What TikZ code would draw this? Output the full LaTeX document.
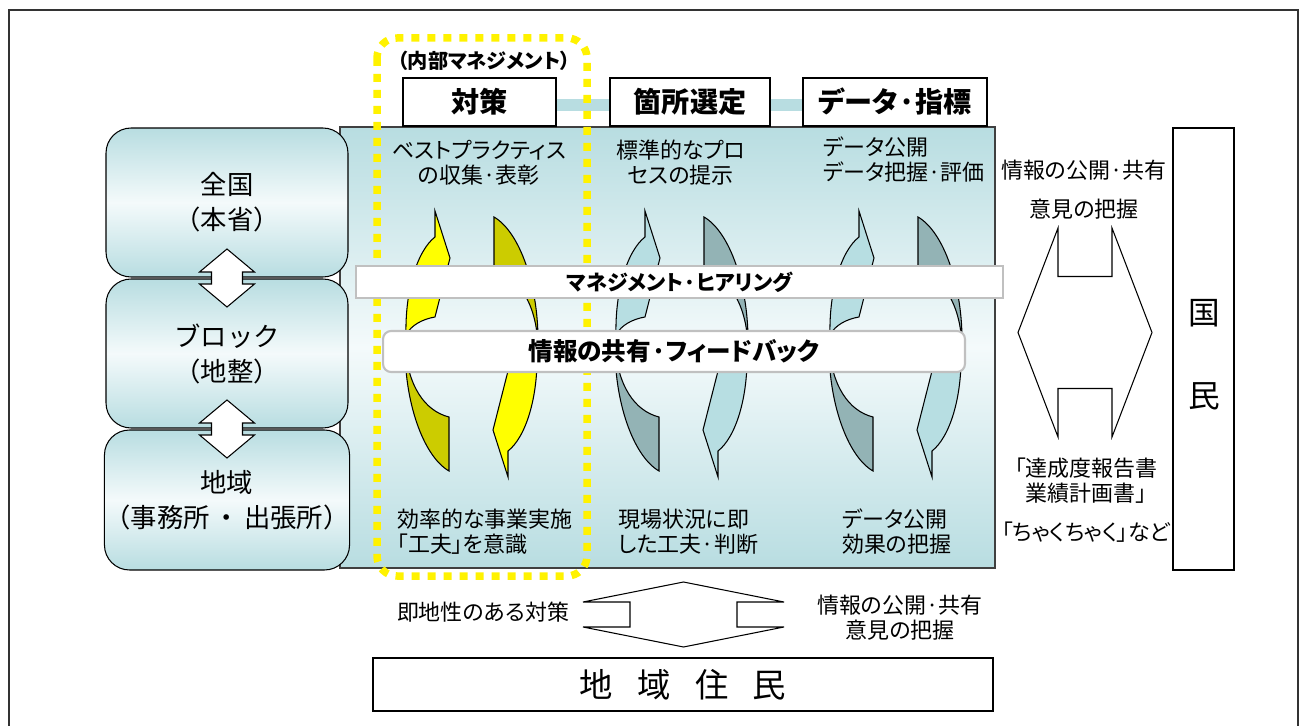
\documentclass[tikz,border=0pt]{standalone}
\usepackage{fontspec}
\setmainfont{Noto Sans CJK JP}
\newfontfamily\pjp[RawFeature=+palt]{Noto Sans CJK JP}
\usetikzlibrary{calc}
\definecolor{panelblue}{HTML}{B8DDE1}
\definecolor{panelwhite}{HTML}{F4FAFB}
\definecolor{ringyellow}{HTML}{FFFF00}
\definecolor{ringolive}{HTML}{CCCC00}
\definecolor{ringblue}{HTML}{B7DEE2}
\definecolor{ringgrey}{HTML}{93B3B5}
\definecolor{barline}{HTML}{C0C0C0}
\newcommand{\vdarrow}[5]{\draw[arrowshape, shift={#1}] (0,-#2) -- (#4,-#2+#3) -- (#5,-#2+#3) -- (#5,#2-#3) -- (#4,#2-#3) -- (0,#2) -- (-#4,#2-#3) -- (-#5,#2-#3) -- (-#5,-#2+#3) -- (-#4,-#2+#3) -- cycle;}
\newcommand{\hdarrow}[5]{\draw[arrowshape, shift={#1}] (-#2,0) -- (-#2+#3,-#4) -- (-#2+#3,-#5) -- (#2-#3,-#5) -- (#2-#3,-#4) -- (#2,0) -- (#2-#3,#4) -- (#2-#3,#5) -- (-#2+#3,#5) -- (-#2+#3,#4) -- cycle;}
\newcommand{\ringhalf}[2]{%
	\draw[ringline, fill=#1] (0,0) -- (15,47) -- (0,106) .. controls (-12,108) and (-24,114) .. (-29,124) .. controls (-30,80) and (-18,40) .. (0,26) -- cycle;
	\draw[ringline, fill=#2] (-30,132) .. controls (-31,190) and (-12,245) .. (14,260) -- (14,206) .. controls (-10,200) and (-28,175) .. (-30,132) -- cycle;}
\newcommand{\ringpair}[3]{%
	\begin{scope}[shift={#1}]\ringhalf{#2}{#3}\end{scope}
	\begin{scope}[shift={#1}, shift={(73,266)}, rotate=180]\ringhalf{#2}{#3}\end{scope}}

\begin{document}
\begin{tikzpicture}[x=0.02cm, y=-0.02cm,
	block/.style={draw=black, line width=0.6pt, rounded corners=0.5cm, top color=panelblue, bottom color=panelblue, middle color=panelwhite, minimum width=4.84cm, inner sep=0pt, align=center, font=\fontsize{15}{19.9}\selectfont},
	head/.style={draw=black, line width=0.8pt, fill=white, minimum height=0.96cm, inner sep=0pt, font=\pjp\bfseries\fontsize{16}{18}\selectfont},
	hdrlink/.style={line width=0.24cm, draw=panelblue},
	bar/.style={draw=barline, line width=1.2pt, fill=white, inner sep=0pt, font=\pjp\bfseries\fontsize{12}{14}\selectfont},
	note/.style={inner sep=0pt, font=\pjp\fontsize{12.5}{14.2}\selectfont},
	ringline/.style={draw=black, line width=0.6pt},
	arrowshape/.style={draw=black, line width=0.6pt, fill=white},
	innerframe/.style={draw=yellow, line width=0.15cm, rounded corners=0.4cm, dash pattern=on 0.16cm off 0.16cm}]
			%%%%% START %%%%%
			\useasboundingbox (0,0) rectangle (1306,726);
			\draw[line width=1.1pt, black!80] (9,726) -- (9,10) -- (1298,10) -- (1298,726);
			
			\shadedraw[top color=panelblue, bottom color=panelblue, middle color=panelwhite, draw=black!75, line width=0.6pt] (340,127) rectangle (995,568);
			
			\node[head, minimum width=3.06cm] (taisaku) at (479.5,102) {対策};
			\node[head, minimum width=3.2cm] (kasho) at (690,102) {箇所選定};
			\node[head, minimum width=3.68cm] (data) at (895,102) {データ·指標};
			\draw[hdrlink] ([yshift=-0.06cm]taisaku.east) -- ([yshift=-0.06cm]kasho.west);
			\draw[hdrlink] ([yshift=-0.06cm]kasho.east) -- ([yshift=-0.06cm]data.west);
			
			\node[block, minimum height=2.98cm] (zenkoku) at (227,202.5) {全国\\（本省）};
			\node[block, minimum height=2.98cm] (block) at (227,353.5) {ブロック\\（地整）};
			\node[block, minimum height=2.8cm] (chiiki) at (227,500) {地域\\（事務所\hspace{0.15em}・\hspace{0.15em}出張所）};
			\vdarrow{($(zenkoku.south)!.5!(block.north)$)}{29}{23}{27.5}{15.5}
			\vdarrow{($(block.south)!.5!(chiiki.north)$)}{29}{23}{27.5}{15.5}
			
			\ringpair{(435,211)}{ringyellow}{ringolive}
			\ringpair{(645,211)}{ringblue}{ringgrey}
			\ringpair{(859,211)}{ringblue}{ringgrey}
			
			\draw[innerframe] (377,38) rectangle (587,576);
			\node[font=\pjp\bfseries\fontsize{11.5}{14}\selectfont, inner sep=0pt] (inner) at (484,61) {（内部マネジメント）};
			
			\node[bar, minimum width=12.94cm, minimum height=0.64cm] (hearing) at (679.5,282) {マネジメント·ヒアリング};
			\node[bar, rounded corners=0.16cm, minimum width=11.64cm, minimum height=0.82cm, font=\pjp\bfseries\fontsize{14}{16}\selectfont] (feedback) at (674,351.5) {情報の共有·フィードバック};
			
			\node[note, align=center] (t1top) at (479,163) {ベストプラクティス\\の収集·表彰};
			\node[note, align=left, anchor=west] (t1bot) at (397,532) {効率的な事業実施\\「工夫」を意識};
			\node[note, align=center] (t2top) at (681,163) {標準的なプロ\\セスの提示};
			\node[note, align=left, anchor=west] (t2bot) at (618,532) {現場状況に即\\した工夫·判断};
			\node[note, align=left, anchor=west] (t3top) at (823,160) {データ公開\\データ把握·評価};
			\node[note, align=left, anchor=west] (t3bot) at (842,532) {データ公開\\効果の把握};
			
			\hdarrow{(1085,332.5)}{67}{40}{104.5}{56}
			\node[note] (pubshare) at (1084,170) {情報の公開·共有};
			\node[note] (opinion) at (1084,209) {意見の把握};
			\node[note, align=center] (report) at (1086,481) {「達成度報告書\\業績計画書」};
			\node[note] (chaku) at (1086,532) {「ちゃくちゃく」など};
			\node[draw=black, line width=0.8pt, fill=white, minimum width=1.22cm, minimum height=8.84cm, inner sep=0pt] (kokumin) at (1203.5,349) {};
			\node[font=\fontsize{18}{20}\selectfont, inner sep=0pt] (koku) at (1204,313) {国};
			\node[font=\fontsize{18}{20}\selectfont, inner sep=0pt] (min) at (1204,396) {民};
			
			\vdarrow{(683.5,614.5)}{32.5}{20}{100.5}{53.5}
			\node[note] (sokuchi) at (483,612) {即地性のある対策};
			\node[note, align=center] (pubshare2) at (900,618) {情報の公開·共有\\意見の把握};
			\node[draw=black, line width=0.8pt, fill=white, minimum width=12.4cm, minimum height=1.06cm, inner sep=0pt, font=\fontsize{19}{21}\selectfont] (jumin) at (683,684.5) {地\hspace{0.73em}域\hspace{0.73em}住\hspace{0.73em}民};
			%%%%% END %%%%%
\end{tikzpicture}
\end{document}
